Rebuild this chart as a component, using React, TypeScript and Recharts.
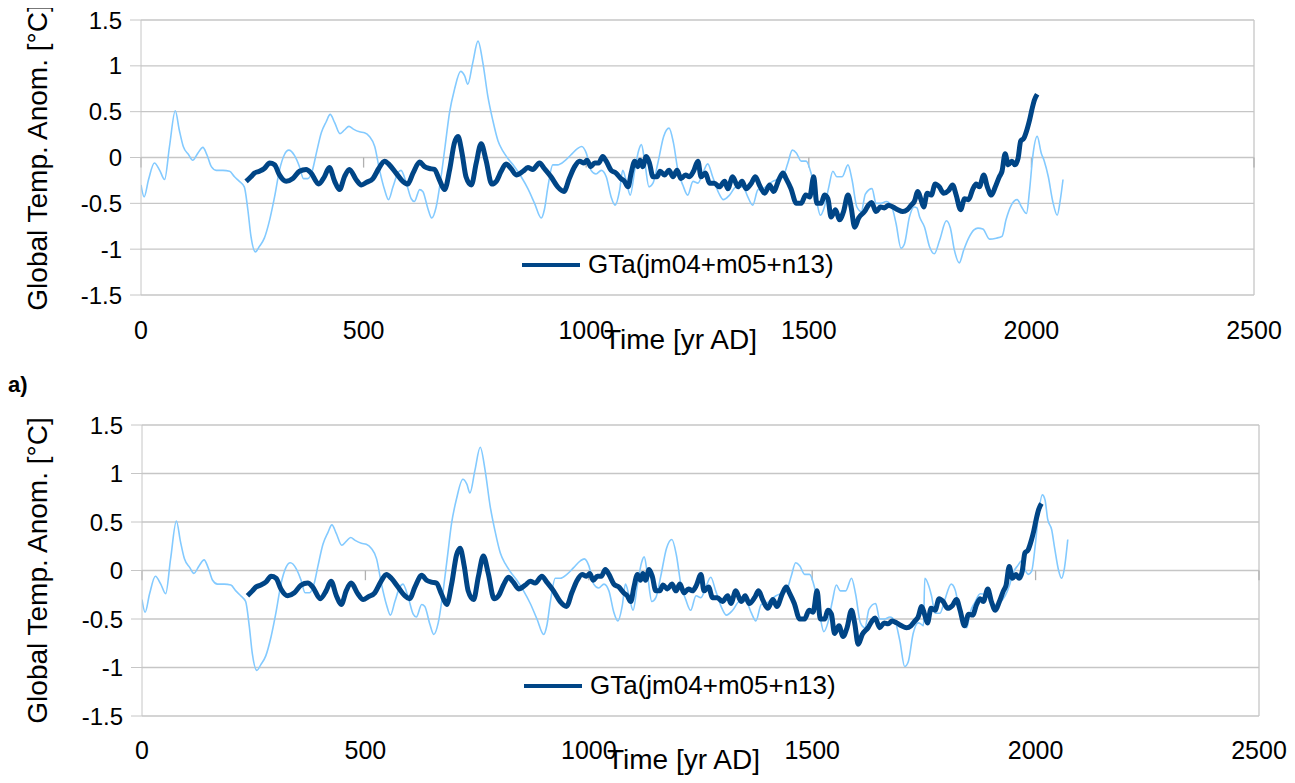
// Two stacked panels: reconstruction (light) vs GTa composite (dark), years 0-2500
import { LineChart, Line, XAxis, YAxis, CartesianGrid, ReferenceLine, Legend } from 'recharts';

const gtaYears = [
  236, 247, 255, 266, 277, 289, 300, 311, 326, 341, 356, 371, 382, 399, 412, 423, 435, 446, 457, 468,
  483, 495, 507, 521, 534, 547, 558, 573, 588, 599, 611, 626, 637, 648, 659, 670, 682, 693, 704, 712,
  721, 730, 742, 753, 764, 775, 788, 798, 809, 820, 831, 843, 858, 869, 880, 895, 906, 921, 936, 950,
  962, 974, 985, 995, 1002, 1010, 1019, 1028, 1037, 1045, 1056, 1067, 1078, 1086, 1094, 1101, 1109, 1116, 1121, 1127,
  1135, 1142, 1150, 1159, 1166, 1176, 1186, 1195, 1204, 1213, 1223, 1232, 1241, 1251, 1258, 1268, 1277, 1288, 1299, 1311,
  1318, 1329, 1341, 1350, 1359, 1371, 1380, 1389, 1401, 1412, 1421, 1433, 1442, 1449, 1460, 1472, 1483, 1493, 1502, 1511,
  1518, 1528, 1535, 1543, 1550, 1560, 1569, 1578, 1588, 1595, 1603, 1612, 1625, 1634, 1641, 1651, 1661, 1670, 1679, 1689,
  1700, 1711, 1721, 1730, 1737, 1745, 1752, 1758, 1766, 1775, 1784, 1793, 1803, 1814, 1823, 1831, 1841, 1850, 1859, 1868,
  1876, 1883, 1893, 1901, 1910, 1919, 1928, 1934, 1941, 1948, 1956, 1963, 1970, 1976, 1983, 1991, 1996, 2001, 2007, 2013,
];
const gtaValues = [
  -0.26, -0.21, -0.17, -0.15, -0.12, -0.06, -0.08, -0.19, -0.26, -0.23, -0.15, -0.13, -0.17, -0.29, -0.21, -0.11, -0.26, -0.35, -0.21, -0.13,
  -0.24, -0.3, -0.27, -0.23, -0.12, -0.04, -0.08, -0.17, -0.26, -0.29, -0.17, -0.05, -0.1, -0.12, -0.13, -0.24, -0.35, -0.14, 0.16, 0.23,
  0.05, -0.21, -0.3, -0.06, 0.15, -0.03, -0.29, -0.26, -0.15, -0.07, -0.12, -0.19, -0.15, -0.11, -0.13, -0.06, -0.12, -0.21, -0.32, -0.37,
  -0.23, -0.1, -0.04, -0.06, -0.03, -0.1, -0.06, -0.06, 0.01, -0.04, -0.14, -0.17, -0.23, -0.26, -0.32, -0.17, -0.04, -0.1, -0.03, -0.1,
  0.01, -0.06, -0.21, -0.21, -0.15, -0.19, -0.14, -0.21, -0.14, -0.23, -0.19, -0.21, -0.15, -0.04, -0.21, -0.17, -0.28, -0.28, -0.32, -0.26,
  -0.34, -0.21, -0.32, -0.26, -0.34, -0.28, -0.21, -0.3, -0.39, -0.3, -0.37, -0.24, -0.17, -0.23, -0.34, -0.5, -0.5, -0.41, -0.43, -0.21,
  -0.5, -0.5, -0.41, -0.45, -0.65, -0.57, -0.68, -0.59, -0.41, -0.54, -0.76, -0.66, -0.59, -0.52, -0.49, -0.59, -0.54, -0.55, -0.52, -0.54,
  -0.57, -0.59, -0.57, -0.52, -0.48, -0.37, -0.46, -0.54, -0.39, -0.41, -0.29, -0.32, -0.39, -0.36, -0.3, -0.41, -0.57, -0.45, -0.46, -0.35,
  -0.29, -0.32, -0.19, -0.32, -0.41, -0.32, -0.21, -0.15, 0.04, -0.08, -0.04, -0.08, -0.01, 0.18, 0.21, 0.32, 0.41, 0.52, 0.63, 0.69,
];

// light reconstruction, common to both panels up to ~1741
const reconYears = [
  0, 7, 17, 30, 42, 53, 64, 77, 86, 95, 107, 116, 128, 139, 148, 158, 169, 184, 199, 210,
  221, 232, 240, 247, 257, 266, 277, 289, 300, 311, 322, 332, 345, 356, 365, 375, 385, 394, 405, 416,
  425, 435, 447, 457, 467, 477, 491, 502, 513, 525, 536, 547, 556, 566, 577, 584, 596, 607, 614, 626,
  633, 644, 653, 663, 674, 683, 693, 704, 718, 727, 734, 745, 757, 768, 779, 790, 802, 813, 824, 839,
  854, 869, 884, 899, 906, 914, 925, 936, 951, 966, 981, 990, 1000, 1011, 1022, 1034, 1045, 1056, 1065, 1075,
  1082, 1091, 1099, 1109, 1118, 1124, 1131, 1141, 1150, 1161, 1174, 1186, 1196, 1206, 1217, 1228, 1240, 1251, 1262, 1273,
  1284, 1298, 1308, 1322, 1337, 1352, 1363, 1374, 1386, 1397, 1408, 1419, 1430, 1442, 1453, 1463, 1472, 1483, 1494, 1505,
  1517, 1526, 1535, 1545, 1554, 1563, 1575, 1588, 1597, 1608, 1618, 1627, 1642, 1651, 1662, 1674, 1685, 1696, 1707, 1715,
  1726, 1737, 1743,
];
const reconValues = [
  -0.3, -0.43, -0.24, -0.06, -0.14, -0.24, 0.12, 0.51, 0.3, 0.12, 0.03, -0.03, 0.05, 0.11, 0.03, -0.1, -0.14, -0.14, -0.15, -0.21,
  -0.26, -0.32, -0.57, -0.86, -1.03, -0.97, -0.88, -0.68, -0.43, -0.14, 0.03, 0.08, 0.02, -0.1, -0.23, -0.23, -0.14, 0.05, 0.27, 0.39,
  0.47, 0.38, 0.26, 0.3, 0.34, 0.31, 0.28, 0.27, 0.23, 0.12, -0.14, -0.35, -0.46, -0.32, -0.17, -0.14, -0.28, -0.45, -0.48, -0.35,
  -0.37, -0.55, -0.66, -0.54, -0.21, 0.12, 0.49, 0.74, 0.94, 0.89, 0.8, 1.03, 1.27, 1.03, 0.67, 0.41, 0.18, 0.07, -0.01, -0.1,
  -0.21, -0.34, -0.5, -0.66, -0.57, -0.32, -0.08, -0.08, -0.04, 0.03, 0.1, 0.12, 0.05, -0.14, -0.18, -0.14, -0.21, -0.43, -0.52, -0.36,
  -0.14, -0.28, -0.41, -0.14, 0.08, 0.14, -0.03, -0.32, -0.28, -0.06, 0.23, 0.32, 0.16, -0.14, -0.3, -0.41, -0.26, -0.28, -0.17, -0.07,
  -0.21, -0.39, -0.46, -0.41, -0.32, -0.32, -0.43, -0.52, -0.35, -0.34, -0.3, -0.26, -0.24, -0.21, -0.06, 0.08, 0.05, -0.04, -0.04, -0.17,
  -0.46, -0.63, -0.54, -0.32, -0.15, -0.21, -0.21, -0.08, -0.24, -0.54, -0.59, -0.4, -0.34, -0.5, -0.5, -0.48, -0.52, -0.72, -0.99, -0.94,
  -0.65, -0.54, -0.55,
];

// panel a) tail
const tailTopYears = [
  1749, 1760, 1771, 1782, 1794, 1809, 1818, 1827, 1838, 1848, 1859, 1871, 1880, 1891, 1906, 1921, 1934, 1943, 1955, 1968,
  1978, 1989, 1996, 2003, 2013, 2022, 2029, 2038, 2048, 2058, 2065, 2071,
];
const tailTopValues = [
  -0.65, -0.76, -0.97, -1.05, -0.9, -0.69, -0.77, -1.01, -1.15, -1.01, -0.88, -0.79, -0.77, -0.78, -0.89, -0.88, -0.86, -0.68, -0.52, -0.46,
  -0.54, -0.61, -0.35, 0.01, 0.23, 0.05, -0.04, -0.21, -0.48, -0.63, -0.46, -0.24,
];

// lower panel tail
const tailBottomYears = [
  1749, 1752, 1761, 1767, 1775, 1786, 1797, 1811, 1820, 1829, 1838, 1846, 1853, 1864, 1876, 1887, 1898, 1909, 1920, 1932,
  1941, 1950, 1960, 1969, 1976, 1984, 1991, 1999, 2006, 2015, 2021, 2027, 2036, 2043, 2051, 2058, 2064, 2072,
];
const tailBottomValues = [
  -0.57, -0.08, -0.16, -0.26, -0.44, -0.44, -0.3, -0.14, -0.2, -0.4, -0.57, -0.59, -0.44, -0.33, -0.24, -0.25, -0.3, -0.35, -0.33, -0.26,
  -0.16, -0.02, 0.05, 0.1, 0.01, -0.04, -0.01, 0.25, 0.56, 0.78, 0.73, 0.53, 0.42, 0.22, 0.01, -0.08, 0.01, 0.32,
];

const xTicks = [0, 500, 1000, 1500, 2000, 2500];
const yTicks = [-1.5, -1, -0.5, 0, 0.5, 1, 1.5];

const DARK = '#004586';
const LIGHT = '#83caff';
const GRID = '#c6c6c6';
const FONT = '"Liberation Sans", Arial, sans-serif';

const toPoints = (xs: number[], ys: number[]) => xs.map((year, i) => ({ year, value: ys[i] }));

const gtaSeries = toPoints(gtaYears, gtaValues);
const reconTop = toPoints([...reconYears, ...tailTopYears], [...reconValues, ...tailTopValues]);
const reconBottom = toPoints([...reconYears, ...tailBottomYears], [...reconValues, ...tailBottomValues]);

function GtaLegend() {
  return (
    <div style={{ display: 'flex', alignItems: 'center', fontSize: 26, color: '#000', fontFamily: FONT, whiteSpace: 'nowrap' }}>
      <svg width={60} height={10}>
        <line x1={1} y1={5} x2={59} y2={5} stroke={DARK} strokeWidth={4} />
      </svg>
      <span style={{ marginLeft: 7 }}>GTa(jm04+m05+n13)</span>
    </div>
  );
}

interface PanelProps {
  recon: Array<{ year: number; value: number }>;
  height: number;
  margin: { top: number; right: number; left: number; bottom: number };
  yAxisWidth: number;
  xAxisHeight: number;
  xTickMargin: number;
  titleOffset: number;
  legendTop: number;
  legendLeft: number;
  tickDrop: number;
}

function Panel({ recon, height, margin, yAxisWidth, xAxisHeight, xTickMargin, titleOffset, legendTop, legendLeft, tickDrop }: PanelProps) {
  return (
    <LineChart width={1295} height={height} margin={margin}>
      <CartesianGrid vertical={false} stroke={GRID} strokeWidth={1.3} />
      <XAxis
        dataKey="year"
        type="number"
        domain={[0, 2500]}
        ticks={xTicks}
        axisLine={false}
        tickLine={false}
        tickSize={6}
        tickMargin={xTickMargin}
        height={xAxisHeight}
        tick={{ fontSize: 25, fill: '#000', fontFamily: FONT }}
        allowDataOverflow
        label={{
          value: 'Time [yr AD]',
          position: 'insideBottom',
          offset: titleOffset,
          dx: -17,
          style: { fontSize: 28, fill: '#000', fontFamily: FONT },
        }}
      />
      <YAxis
        type="number"
        domain={[-1.5, 1.5]}
        ticks={yTicks}
        width={yAxisWidth}
        stroke={GRID}
        tickSize={11}
        tickMargin={8}
        tick={{ fontSize: 24, fill: '#000', fontFamily: FONT }}
        label={{
          value: 'Global Temp. Anom. [°C]',
          angle: -90,
          position: 'insideLeft',
          offset: 37,
          style: { textAnchor: 'middle', fontSize: 28, fill: '#000', fontFamily: FONT },
        }}
      />
      <ReferenceLine x={2500} stroke={GRID} strokeWidth={1.3} />
      {xTicks.map((t) => (
        <ReferenceLine
          key={t}
          segment={[{ x: t, y: 0 }, { x: t, y: -tickDrop }]}
          stroke="#b0b0b0"
          strokeWidth={1.3}
        />
      ))}
      <Legend
        layout="horizontal"
        verticalAlign="middle"
        align="center"
        content={<GtaLegend />}
        wrapperStyle={{ left: legendLeft, top: legendTop, width: 'auto' }}
      />
      <Line
        data={recon}
        dataKey="value"
        type="monotone"
        stroke={LIGHT}
        strokeWidth={1.6}
        dot={false}
        legendType="none"
        isAnimationActive={false}
      />
      <Line
        data={gtaSeries}
        dataKey="value"
        name="GTa(jm04+m05+n13)"
        type="monotone"
        stroke={DARK}
        strokeWidth={5}
        strokeLinejoin="round"
        dot={false}
        isAnimationActive={false}
      />
    </LineChart>
  );
}

export default function App() {
  return (
    <div style={{ position: 'relative', margin: -8, width: 1295, height: 783, background: '#fff', fontFamily: FONT }}>
      <div style={{ position: 'absolute', left: 0, top: 0 }}>
        <Panel
          recon={reconTop}
          height={390}
          margin={{ top: 20, right: 41, left: 0, bottom: 35 }}
          yAxisWidth={141}
          xAxisHeight={60}
          xTickMargin={20}
          titleOffset={6}
          legendTop={249}
          legendLeft={521}
          tickDrop={0.11}
        />
      </div>
      <div style={{ position: 'absolute', left: 8, top: 372, fontSize: 22, fontWeight: 'bold', color: '#000' }}>a)</div>
      <div style={{ position: 'absolute', left: 0, top: 395 }}>
        <Panel
          recon={reconBottom}
          height={388}
          margin={{ top: 30, right: 36, left: 0, bottom: 5 }}
          yAxisWidth={142}
          xAxisHeight={62}
          xTickMargin={19}
          titleOffset={9}
          legendTop={275}
          legendLeft={523}
          tickDrop={0.1}
        />
      </div>
    </div>
  );
}
